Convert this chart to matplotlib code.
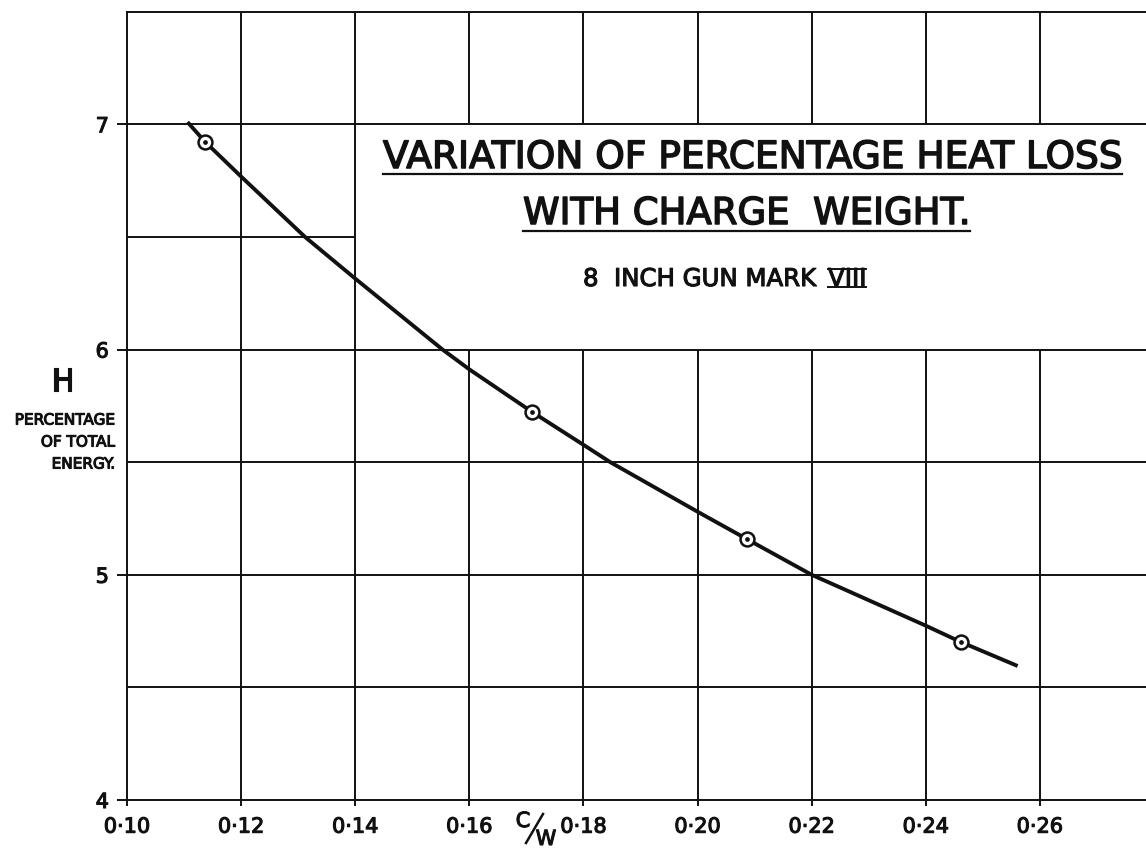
import matplotlib
matplotlib.use("Agg")
import matplotlib.pyplot as plt
import matplotlib.patheffects as pe
from matplotlib.lines import Line2D

# observed points: charge ratio C/W against heat loss H (% of total energy)
obs_cw = [0.1137, 0.1710, 0.2086, 0.2461]
obs_h = [6.922, 5.723, 5.159, 4.702]

# faired curve through the observations, read along its length
curve_cw = [0.1106, 0.1137, 0.1200, 0.1312, 0.1400, 0.1553, 0.1600, 0.1710,
            0.1800, 0.1847, 0.2000, 0.2086, 0.2200, 0.2400, 0.2461, 0.2561]
curve_h = [7.010, 6.922, 6.768, 6.500, 6.315, 6.000, 5.912, 5.723,
           5.577, 5.500, 5.280, 5.159, 5.000, 4.774, 4.702, 4.595]

x_ticks = [0.10, 0.12, 0.14, 0.16, 0.18, 0.20, 0.22, 0.24, 0.26]
x_labels = ["0·10", "0·12", "0·14", "0·16", "0·18", "0·20", "0·22", "0·24", "0·26"]
y_ticks = [4, 5, 6, 7]
y_labels = ["4", "5", "6", "7"]
y_grid = [4.5, 5.0, 5.5, 6.0, 6.5, 7.0]

title_lines = ["VARIATION OF PERCENTAGE HEAT LOSS", "WITH CHARGE  WEIGHT."]
subtitle = "8  INCH GUN MARK"
mark_no = "VIII"
ylabel_lines = ["PERCENTAGE", "OF TOTAL", "ENERGY."]

W, H = 1146, 850
X0, X1 = 0.10, 0.2786
Y0, Y1 = 4.0, 7.5
# blank panel kept clear of grid for the title
BOX_X = 0.14
BOX_Y = (6.0, 7.0)
LW = 1.4
INK = "#111111"

plt.rcParams["font.family"] = ["DejaVu Sans"]
bold = [pe.withStroke(linewidth=0.8, foreground=INK)]
heavy = [pe.withStroke(linewidth=1.1, foreground=INK)]


def fx(px):
    return px / W


def fy(py):
    return 1 - py / H


fig = plt.figure(figsize=(W / 100, H / 100), dpi=100)
fig.patch.set_facecolor("white")
ax = fig.add_axes([fx(127), 50 / H, 1 - fx(127), (800 - 11.7) / H])
ax.set_xlim(X0, X1)
ax.set_ylim(Y0, Y1)

# grid, leaving the title panel open
for x in x_ticks[1:]:
    if x <= BOX_X + 1e-9:
        ax.vlines(x, Y0, Y1, colors=INK, lw=LW, zorder=1)
    else:
        ax.vlines(x, Y0, BOX_Y[0], colors=INK, lw=LW, zorder=1)
        ax.vlines(x, BOX_Y[1], Y1, colors=INK, lw=LW, zorder=1)
for y in y_grid:
    if BOX_Y[0] < y < BOX_Y[1]:
        ax.hlines(y, X0, BOX_X, colors=INK, lw=LW, zorder=1)
    else:
        ax.hlines(y, X0, X1, colors=INK, lw=LW, zorder=1)

for side in ["left", "bottom", "top"]:
    ax.spines[side].set_linewidth(LW)
    ax.spines[side].set_color(INK)
ax.spines["right"].set_visible(False)

ax.set_xticks(x_ticks, x_labels)
ax.set_yticks(y_ticks, y_labels)
ax.tick_params(axis="x", length=4, width=LW, pad=8, labelsize=15, colors=INK)
ax.tick_params(axis="y", length=7, width=LW, pad=6, labelsize=15, colors=INK)
for lab in ax.get_xticklabels() + ax.get_yticklabels():
    lab.set_path_effects(bold)

# curve and observed points
ax.plot(curve_cw, curve_h, color=INK, lw=2.8, solid_capstyle="butt", zorder=3)
ax.plot(obs_cw, obs_h, ls="none", marker="o", ms=10, mfc="white",
        mec=INK, mew=1.8, zorder=4)
ax.plot(obs_cw, obs_h, ls="none", marker="o", ms=2.4, mfc=INK, mec=INK, zorder=5)

# axis labels
fig.text(fx(63), fy(382), "H", ha="center", va="center", fontsize=22,
         color=INK, path_effects=bold)
for i, line in enumerate(ylabel_lines):
    fig.text(fx(115), fy(420 + 22 * i), line, ha="right", va="center",
             fontsize=11, color=INK, path_effects=bold)
fig.text(fx(523), fy(821), "C", ha="center", va="center", fontsize=15,
         color=INK, path_effects=bold)
fig.text(fx(546), fy(839), "W", ha="center", va="center", fontsize=15,
         color=INK, path_effects=bold)
fig.add_artist(Line2D([fx(526), fx(543)], [fy(843), fy(814)],
                      transform=fig.transFigure, color=INK, lw=1.8))


def fit_width(t, width_px):
    fig.canvas.draw()
    bb = t.get_window_extent()
    t.set_fontsize(t.get_fontsize() * width_px / bb.width)
    fig.canvas.draw()
    return t.get_window_extent()


def hline_px(xa, xb, py, lw=1.6):
    fig.add_artist(Line2D([fx(xa), fx(xb)], [fy(py), fy(py)],
                          transform=fig.transFigure, color=INK, lw=lw))


# title block
t1 = fig.text(fx(383), fy(168), title_lines[0], ha="left", va="baseline",
              fontsize=25, color=INK, path_effects=heavy)
bb1 = fit_width(t1, 1122 - 383)
hline_px(bb1.x0, bb1.x1, 174)

t2 = fig.text(fx(523), fy(224), title_lines[1], ha="left", va="baseline",
              fontsize=25, color=INK, path_effects=heavy)
bb2 = fit_width(t2, 970 - 523)
hline_px(bb2.x0, bb2.x1, 231)

t3 = fig.text(fx(583), fy(286), subtitle, ha="left", va="baseline",
              fontsize=17, color=INK, path_effects=bold)
fit_width(t3, 817 - 583)
t4 = fig.text(fx(828), fy(286), mark_no, ha="left", va="baseline",
              fontsize=15, color=INK, path_effects=bold)
bb4 = fit_width(t4, 866 - 828)
hline_px(bb4.x0, bb4.x1, 269, lw=1.4)
hline_px(bb4.x0, bb4.x1, 287, lw=1.4)

fig.savefig("out.png", dpi=100, facecolor="white")
